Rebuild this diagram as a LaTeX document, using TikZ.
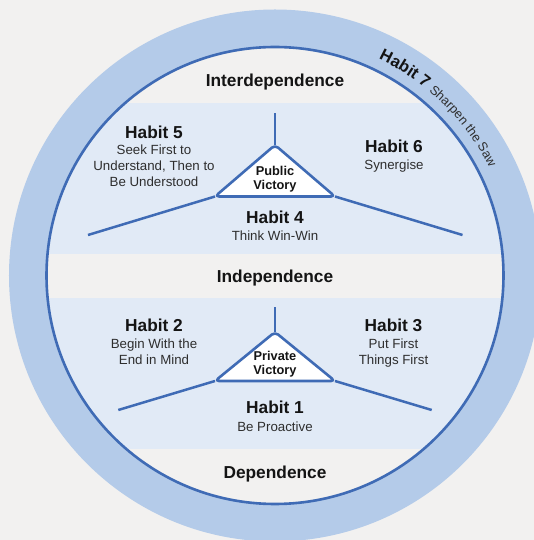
\documentclass[tikz,border=0pt]{standalone}
\usepackage{fontspec}
\setmainfont{Liberation Sans}
\usetikzlibrary{decorations.text}

\definecolor{bgcol}{HTML}{F2F1F0}
\definecolor{ringcol}{HTML}{B4CBE9}
\definecolor{bandcol}{HTML}{E1EAF6}
\definecolor{linecol}{HTML}{3F6BB5}
\definecolor{ink}{HTML}{141414}
\definecolor{softink}{HTML}{2E2E2E}
\newcommand{\habfont}{\fontsize{17.3}{20}\selectfont\bfseries}
\newcommand{\descfont}{\fontsize{13.3}{15.8}\selectfont}
\newcommand{\victfont}{\fontsize{12.8}{14.1}\selectfont\bfseries}
\newcommand{\sawbold}{\fontsize{16.5}{19}\selectfont\bfseries}
\newcommand{\sawfont}{\fontsize{12.8}{15}\selectfont}

\begin{document}
\begin{tikzpicture}[x=1pt,y=1pt,
  level/.style={font=\habfont, text=ink, anchor=base, inner sep=0pt},
  habit/.style={font=\habfont, text=ink, anchor=base, inner sep=0pt},
  desc/.style={font=\descfont, text=softink, anchor=base, inner sep=0pt, align=center},
  victory/.style={font=\victfont, text=ink, anchor=base, inner sep=0pt, align=center},
  spoke/.style={draw=linecol, line width=2.5pt},
  badge/.style={draw=linecol, fill=white, line width=2.6pt, line join=round, rounded corners=4pt}]
\useasboundingbox (-275,-264.5) rectangle (259,275.5);
\fill[bgcol] (-275,-264.5) rectangle (259,275.5);

% rings
\fill[ringcol] (0,0) circle (266);
\fill[bgcol] (0,0) circle (228.5);
\begin{scope}
  \clip (0,0) circle (228.5);
  \fill[bandcol] (-230,21) rectangle (230,172.5);
  \fill[bandcol] (-230,-173.5) rectangle (230,-22.5);
\end{scope}
\draw[linecol, line width=2.6pt] (0,0) circle (228.5);

% public victory
\coordinate (pubTop) at (0,130.5);
\coordinate (pubL) at (-60,79);
\coordinate (pubR) at (60,79);
\coordinate (pubUp) at (0,162.2);
\coordinate (pubLend) at (-187,40.5);
\coordinate (pubRend) at (187.5,40.5);
\draw[spoke] (pubTop) -- (pubUp);
\draw[spoke] (pubL) -- (pubLend);
\draw[spoke] (pubR) -- (pubRend);
\draw[badge] (pubTop) -- (pubR) -- (pubL) -- cycle;

% private victory
\coordinate (privTop) at (0,-56.5);
\coordinate (privL) at (-60,-105.5);
\coordinate (privR) at (60,-105.5);
\coordinate (privUp) at (0,-31.8);
\coordinate (privLend) at (-156.7,-134.5);
\coordinate (privRend) at (156.7,-134.5);
\draw[spoke] (privTop) -- (privUp);
\draw[spoke] (privL) -- (privLend);
\draw[spoke] (privR) -- (privRend);
\draw[badge] (privTop) -- (privR) -- (privL) -- cycle;

% labels (multi-line nodes sit on their last line)
\node[level] (inter) at (0,188.7) {Interdependence};
\node[level] (indep) at (0,-6.9) {Independence};
\node[level] (dep) at (0,-203.1) {Dependence};

\node[habit] (h5) at (-121,137.1) {Habit 5};
\node[desc] (h5txt) at (-121,89.2) {Seek First to\\Understand, Then to\\Be Understood};
\node[habit] (h6) at (119,123.3) {Habit 6};
\node[desc] (h6txt) at (119,105.7) {Synergise};
\node[habit] (h4) at (0,51.7) {Habit 4};
\node[desc] (h4txt) at (0,34.5) {Think Win-Win};
\node[victory] (pub) at (0,85.8) {Public\\Victory};

\node[habit] (h2) at (-121,-55.8) {Habit 2};
\node[desc] (h2txt) at (-121,-88.5) {Begin With the\\End in Mind};
\node[habit] (h3) at (118.5,-55.8) {Habit 3};
\node[desc] (h3txt) at (118.5,-88.5) {Put First\\Things First};
\node[habit] (h1) at (0,-137.7) {Habit 1};
\node[desc] (h1txt) at (0,-155.5) {Be Proactive};
\node[victory] (priv) at (0,-99.2) {Private\\Victory};

% habit 7 along the ring
\path[decorate, decoration={text along path, text align=left,
  text={|\sawbold\color{ink}|Habit 7 |\sawfont\color{softink}|Sharpen the Saw}}]
  (64.4:240) arc[start angle=64.4, end angle=10, radius=240];
\end{tikzpicture}
\end{document}
